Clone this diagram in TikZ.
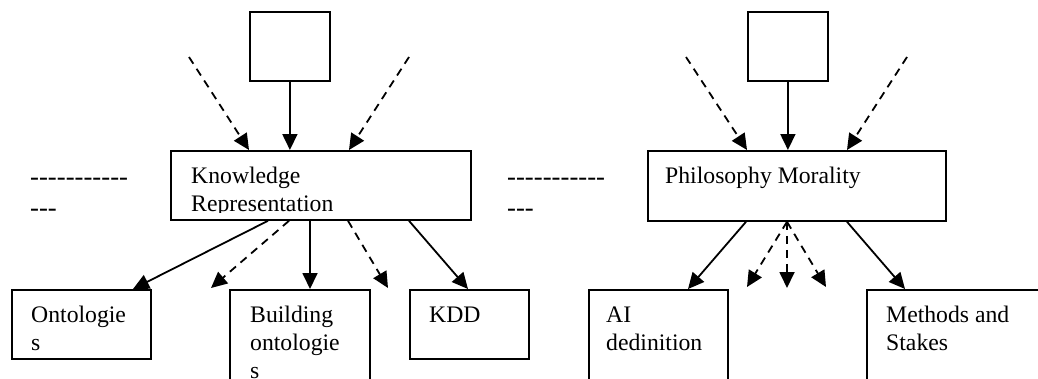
\documentclass[tikz,border=0pt]{standalone}
\usepackage{fontspec}
\newfontfamily\tnr{Liberation Serif}
\usetikzlibrary{arrows.meta,calc}
\newcommand\hyp{\hbox to 8.9pt{\hss-\hss}}
\begin{document}
\begin{tikzpicture}[x=1pt,y=-1pt,
  box/.style={draw,line width=1.8pt,inner sep=0pt,anchor=north west},
  txt/.style={inner sep=0pt,anchor=base west,font=\tnr\fontsize{23.7}{28}\selectfont},
  dsh/.style={inner sep=0pt,anchor=base west,font=\tnr\fontsize{26.7}{31}\selectfont},
  arr/.style={line width=1.8pt,-{Triangle[length=16pt,width=15pt]}},
  darr/.style={arr,dash pattern=on 8pt off 6pt}]
\useasboundingbox (0,0) rectangle (1038,378);
% left group
\node[box,minimum width=80pt,minimum height=69pt] (sqL) at (249,11) {};
\node[box,minimum width=300pt,minimum height=69pt] (kr) at (170,150) {};
\node[box,minimum width=139pt,minimum height=69pt] (ont) at (11,289) {};
\node[box,minimum width=140pt,minimum height=110pt] (bld) at (229,289) {};
\node[box,minimum width=119pt,minimum height=69pt] (kdd) at (409,289) {};
% right group
\node[box,minimum width=80pt,minimum height=69pt] (sqR) at (747,11) {};
\node[box,minimum width=298pt,minimum height=70pt] (pm) at (647,150) {};
\node[box,minimum width=139pt,minimum height=110pt] (ai) at (588,289) {};
\node[box,minimum width=200pt,minimum height=110pt] (met) at (866,289) {};
% texts
\begin{scope}
\clip (kr.north west) rectangle ($(kr.south east)+(0,-8)$);
\node[txt] (kr1) at (191,183) {Knowledge};
\node[txt] (kr2) at (191,211) {Representation};
\end{scope}
\node[txt] (pm1) at (665,183) {Philosophy Morality};
\begin{scope}
\clip (ont.north west) rectangle ($(ont.south east)+(0,-9)$);
\node[txt] (ont1) at (31,322) {Ontologie};
\node[txt] (ont2) at (31,350) {s};
\end{scope}
\node[txt] (bld1) at (250,322) {Building};
\node[txt] (bld2) at (250,350) {ontologie};
\node[txt] (bld3) at (250,378) {s};
\node[txt] (kdd1) at (429,322) {KDD};
\node[txt] (ai1) at (606,322) {AI};
\node[txt] (ai2) at (606,350) {dedinition};
\node[txt] (met1) at (886,322) {Methods and};
\node[txt] (met2) at (886,350) {Stakes};
\node[dsh] (dL1) at (30,185) {\hyp\hyp\hyp\hyp\hyp\hyp\hyp\hyp\hyp\hyp\hyp};
\node[dsh] (dL2) at (30,216) {\hyp\hyp\hyp};
\node[dsh] (dR1) at (507,185) {\hyp\hyp\hyp\hyp\hyp\hyp\hyp\hyp\hyp\hyp\hyp};
\node[dsh] (dR2) at (507,216) {\hyp\hyp\hyp};
% free ends
\coordinate (inL1) at (189,57);
\coordinate (inL2) at (409,57);
\coordinate (inR1) at (686,57);
\coordinate (inR2) at (907,57);
\coordinate (outL1) at (211,288);
\coordinate (outL2) at (388,288);
\coordinate (outR1) at (747,287);
\coordinate (outR2) at (787,288);
\coordinate (outR3) at (826,287);
% left connectors
\draw[arr] (sqL.south) -- (sqL.south |- kr.north);
\draw[darr] (inL1) -- ($(kr.north west)+(79,0)$);
\draw[darr] (inL2) -- ($(kr.north west)+(179,0)$);
\draw[arr] ($(kr.south west)+(98,0)$) -- ($(ont.north west)+(122,0)$);
\draw[darr] ($(kr.south west)+(119,0)$) -- (outL1);
\draw[arr] ($(kr.south west)+(140,0)$) -- ($(bld.north west)+(81,0)$);
\draw[darr] ($(kr.south west)+(178,0)$) -- (outL2);
\draw[arr] ($(kr.south west)+(239,0)$) -- ($(kdd.north west)+(59,0)$);
% right connectors
\draw[arr] (sqR.south) -- (sqR.south |- pm.north);
\draw[darr] (inR1) -- ($(pm.north west)+(100,0)$);
\draw[darr] (inR2) -- ($(pm.north west)+(200,0)$);
\draw[arr] ($(pm.south west)+(99,0)$) -- ($(ai.north west)+(100,0)$);
\draw[darr] ($(pm.south west)+(140,0)$) -- (outR1);
\draw[darr] ($(pm.south west)+(140,0)$) -- (outR2);
\draw[darr] ($(pm.south west)+(140,0)$) -- (outR3);
\draw[arr] ($(pm.south west)+(200,0)$) -- ($(met.north west)+(39,0)$);
\end{tikzpicture}
\end{document}
